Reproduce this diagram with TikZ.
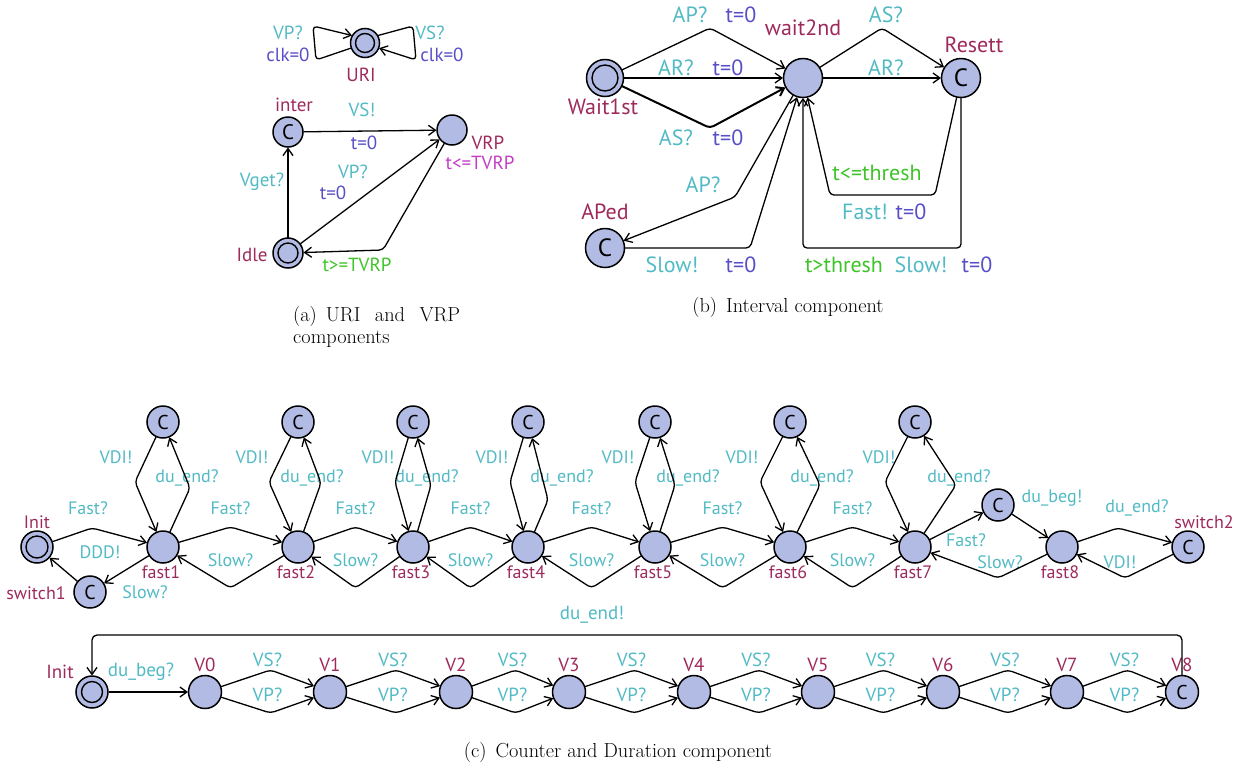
\documentclass[tikz,border=0pt]{standalone}
\usepackage{fontspec}
\setsansfont{PT Sans}
\usetikzlibrary{arrows.meta,calc}
\definecolor{locfill}{RGB}{178,187,227}
\definecolor{locname}{RGB}{158,42,92}
\definecolor{synccol}{RGB}{82,186,196}
\definecolor{asgcol}{RGB}{88,78,200}
\definecolor{grdcol}{RGB}{62,196,40}
\definecolor{invcol}{RGB}{196,60,196}
\begin{document}
\begin{tikzpicture}[x=1pt,y=-1pt,font=\sffamily,
  loc/.style={circle, draw, line width=1.5pt, fill=locfill, inner sep=0pt, outer sep=0.5pt, minimum size=#1},
  loc/.default=32pt,
  initloc/.style={path picture={\draw[line width=1.4pt] (path picture bounding box.center) circle[radius=#1];}},
  edge/.style={draw, line width=1.3pt, rounded corners=4pt, -{Straight Barb[length=7pt,width=10pt]}},
  lab/.style={inner sep=0pt},
  lname/.style={lab, text=locname},
  lsync/.style={lab, text=synccol},
  lasg/.style={lab, text=asgcol},
  lgrd/.style={lab, text=grdcol},
  linv/.style={lab, text=invcol},
  capt/.style={inner sep=0pt, font=\rmfamily\fontsize{20.3}{22.5}\selectfont}]
\useasboundingbox (0,0) rectangle (1249,769);

% ---------------- URI and VRP ----------------
\begin{scope}[font=\sffamily\fontsize{19}{22}\selectfont]
  \node[loc=29pt, initloc=9.5pt] (uri) at (365,43) {};
  \node[lname] (nuri) at (361,75) {URI};
  \node[lsync] (uvp) at (288,33) {VP?};
  \node[lasg] (uvpa) at (288,55) {clk=0};
  \node[lsync] (uvs) at (430,33) {VS?};
  \node[lasg] (uvsa) at (442,55) {clk=0};
  \draw[edge] (uri.200) -- (316,60) -- (313,26) -- (uri.150);
  \draw[edge] (uri.30) -- (413,26) -- (416,60) -- (uri.-20);

  \node[loc=30pt, font=\sffamily\fontsize{21}{22}\selectfont] (inter) at (288,132) {C};
  \node[loc=30pt] (vrp) at (452,130) {};
  \node[loc=30pt, initloc=10pt] (idle) at (288,253) {};
  \node[lname] (ninter) at (294,105) {inter};
  \node[lname] (nvrp) at (488,143) {VRP};
  \node[linv] (ivrp) at (480,163) {t<=TVRP};
  \node[lname] (nidle) at (252,255) {Idle};
  \node[lsync] (lvs) at (362,110) {VS!};
  \node[lasg] (lvsa) at (364,143) {t=0};
  \node[lsync] (lvget) at (262,182) {Vget?};
  \node[lsync] (lvp) at (353,172) {VP?};
  \node[lasg] (lvpa) at (333,193) {t=0};
  \node[lgrd] (lge) at (357,265) {t>=TVRP};
  \draw[edge] (inter) -- (vrp);
  \draw[edge] (idle) -- (inter);
  \draw[edge] (idle) -- (vrp);
  \draw[edge] (vrp) -- (383,250) -- (idle);
\end{scope}
\node[capt, text width=167pt, align=justify, anchor=north west] (capa) at (293,306)
  {(a)\hspace{9pt}URI and VRP components};

% ---------------- Interval ----------------
\begin{scope}[font=\sffamily\fontsize{22}{24}\selectfont]
  \node[loc=37pt, initloc=13pt] (w1) at (605,78) {};
  \node[loc=39pt] (w2) at (803,78) {};
  \node[loc=39pt, font=\sffamily\fontsize{25}{26}\selectfont] (rs) at (961,78) {C};
  \node[loc=39pt, font=\sffamily\fontsize{25}{26}\selectfont] (ap) at (605,248) {C};
  \node[lname] (nw2) at (803,28) {wait2nd};
  \node[lname] (nrs) at (974,45) {Resett};
  \node[lname] (nw1) at (603,107) {Wait1st};
  \node[lname] (nap) at (605,212) {APed};
  \node[lsync] (b1) at (690,15) {AP?};
  \node[lasg] (b1a) at (741,15) {t=0};
  \node[lsync] (b2) at (676,68) {AR?};
  \node[lasg] (b2a) at (728,68) {t=0};
  \node[lsync] (b3) at (676,138) {AS?};
  \node[lasg] (b3a) at (728,138) {t=0};
  \node[lsync] (b4) at (886,15) {AS?};
  \node[lsync] (b5) at (886,68) {AR?};
  \node[lgrd] (b6g) at (877,173) {t<=thresh};
  \node[lsync] (b6) at (865,212) {Fast!};
  \node[lasg] (b6a) at (911,212) {t=0};
  \node[lgrd] (b7g) at (844,265) {t>thresh};
  \node[lsync] (b7) at (921,265) {Slow!};
  \node[lasg] (b7a) at (977,265) {t=0};
  \node[lsync] (b8) at (703,185) {AP?};
  \node[lsync] (b9) at (672,265) {Slow!};
  \node[lasg] (b9a) at (741,265) {t=0};
  \draw[edge] (w1) -- (710,28) -- (w2);
  \draw[edge] (w1) -- (w2);
  \draw[edge, line width=2pt] (w1) -- (710,128) -- (w2);
  \draw[edge] (w2) -- (882,28) -- (rs);
  \draw[edge] (w2) -- (rs);
  \draw[edge] (rs) -- (935,195) -- (830,195) -- (w2);
  \draw[edge] (rs) -- (961,248) -- (803,248) -- (w2);
  \draw[edge] (w2) -- (735,197) -- (ap);
  \draw[edge] (ap) -- (750,248) -- (w2);
\end{scope}
\node[capt] (capb) at (788,307) {(b)\hspace{9pt}Interval component};

% ---------------- Counter: fast chain ----------------
\begin{scope}[font=\sffamily\fontsize{18}{20}\selectfont]
  \node[loc, initloc=11pt] (ini) at (37,547) {};
  \node[lname] (nini) at (37,522) {Init};
  \node[loc, font=\sffamily\fontsize{20}{20}\selectfont] (sw1) at (90,592) {C};
  \node[lname] (nsw1) at (36,593) {switch1};
  \foreach \i/\x/\vl/\vr/\dy/\lx/\rx in {
      1/163/-28/27/488/-47/24,
      2/298/-29/23/483/-46/14,
      3/413/-18/18/485/-35/14,
      4/528/-18/20/500/-36/34,
      5/655/-20/20/485/-37/33,
      6/790/-30/30/485/-48/32,
      7/915/-30/41/485/-36/44} {
    \node[loc] (f\i) at (\x,547) {};
    \node[lname] (nf\i) at (\x-2,572) {fast\i};
    \node[loc, font=\sffamily\fontsize{20}{20}\selectfont] (t\i) at (\x,422) {C};
    \node[lsync] (vdi\i) at (\x+\lx,457) {VDI!};
    \node[lsync] (due\i) at (\x+\rx,478) {du\_end?};
    \draw[edge] (t\i) -- (\x+\vl,482) -- (f\i);
    \draw[edge] (f\i) -- (\x+\vr,\dy) -- (t\i);
  }
  \foreach \i/\j in {1/2,2/3,3/4,4/5,5/6,6/7} {
    \draw[edge] (f\i) -- ($(f\i)!0.5!(f\j)+(0,-20)$) -- (f\j);
    \draw[edge] (f\j) -- ($(f\i)!0.5!(f\j)+(0,41)$) -- (f\i);
    \node[lsync] (fs\i) at ($(f\i)!0.5!(f\j)+(0,-39)$) {Fast?};
    \node[lsync] (sl\i) at ($(f\i)!0.5!(f\j)+(0,13)$) {Slow?};
  }
  \node[lsync] (fs0) at (88,508) {Fast?};
  \node[lsync] (ddd) at (100,552) {DDD!};
  \node[lsync] (sl0) at (145,592) {Slow?};
  \draw[edge] (ini) -- (92,528) -- (f1);
  \draw[edge] (f1) -- (sw1);
  \draw[edge] (sw1) -- (ini);

  \node[loc, font=\sffamily\fontsize{20}{20}\selectfont] (dub) at (998,505) {C};
  \node[loc] (f8) at (1062,547) {};
  \node[lname] (nf8) at (1060,572) {fast8};
  \node[loc, font=\sffamily\fontsize{20}{20}\selectfont] (sw2) at (1188,547) {C};
  \node[lname] (nsw2) at (1204,522) {switch2};
  \node[lsync] (fs7) at (966,540) {Fast?};
  \node[lsync] (sl7) at (1000,562) {Slow?};
  \node[lsync] (dbg) at (1052,498) {du\_beg!};
  \node[lsync] (due8) at (1137,508) {du\_end?};
  \node[lsync] (vdi8) at (1120,562) {VDI!};
  \draw[edge] (f7) -- (dub);
  \draw[edge] (dub) -- (f8);
  \draw[edge] (f8) -- (998,578) -- (f7);
  \draw[edge] (f8) -- (1118,528) -- (sw2);
  \draw[edge] (sw2) -- (1125,578) -- (f8);
\end{scope}

% ---------------- Duration: V chain ----------------
\begin{scope}[font=\sffamily\fontsize{19}{20}\selectfont]
  \node[loc=32pt, initloc=10.5pt] (ib) at (92,692) {};
  \node[lname] (nib) at (60,672) {Init};
  \node[lsync] (dbq) at (141,672) {du\_beg?};
  \node[lsync] (den) at (592,615) {du\_end!};
  \foreach \i/\x in {0/205,1/330,2/456,3/569,4/694,5/818,6/943,7/1067} {
    \node[loc=33pt] (v\i) at (\x,692) {};
    \node[lname] (nv\i) at (\x,665) {V\i};
  }
  \node[loc=33pt, font=\sffamily\fontsize{20}{20}\selectfont] (v8) at (1182,692) {C};
  \node[lname] (nv8) at (1182,665) {V8};
  \foreach \i/\j in {0/1,1/2,2/3,3/4,4/5,5/6,6/7,7/8} {
    \draw[edge] (v\i) -- ($(v\i)!0.5!(v\j)+(3,-22)$) -- (v\j);
    \draw[edge] (v\i) -- ($(v\i)!0.5!(v\j)+(3,21)$) -- (v\j);
    \node[lsync] (vs\i) at ($(v\i)!0.5!(v\j)+(0,-32)$) {VS?};
    \node[lsync] (vp\i) at ($(v\i)!0.5!(v\j)+(0,3)$) {VP?};
  }
  \draw[edge] (ib) -- (v0);
  \draw[edge, rounded corners=5pt] (v8) -- (1182,635) -- (92,635) -- (ib);
\end{scope}
\node[capt] (capc) at (618,752) {(c)\hspace{9pt}Counter and Duration component};
\end{tikzpicture}
\end{document}
